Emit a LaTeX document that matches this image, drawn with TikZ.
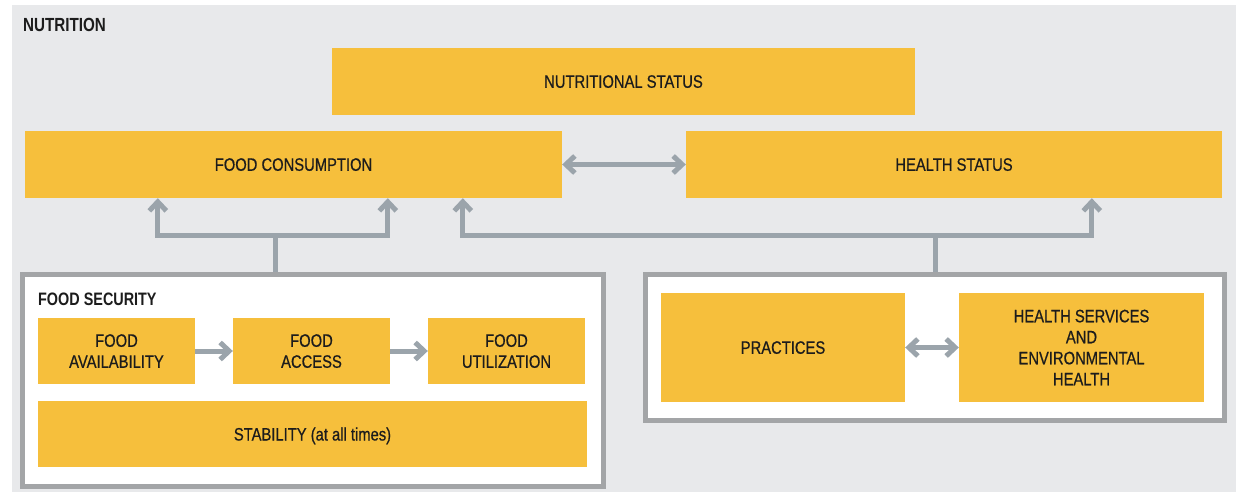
\documentclass[tikz,border=0pt]{standalone}
\usepackage{fontspec}
\setmainfont{Liberation Sans}[FakeStretch=0.8]
\newfontfamily\boxfont{Liberation Sans}[FakeStretch=0.82,FakeBold=0.6]
\usepackage{xcolor}
\usetikzlibrary{arrows.meta,positioning,calc}

\definecolor{bgGrey}{HTML}{E8E9EB}
\definecolor{boxYellow}{HTML}{F6BF3C}
\definecolor{flowGrey}{HTML}{9BA4AB}
\definecolor{frameGrey}{HTML}{A3A5A7}
\definecolor{textBlack}{HTML}{1C1C1C}

\begin{document}
\begin{tikzpicture}[x=1pt,y=-1pt,
    block/.style={fill=boxYellow, text=textBlack, align=center, inner sep=0pt, text depth=0pt,
        font=\boxfont\fontsize{18}{21}\selectfont},
    frame/.style={draw=frameGrey, line width=5pt, fill=white, inner sep=0pt},
    heading/.style={text=textBlack, inner sep=0pt, font=\fontsize{18}{21}\selectfont\bfseries},
    flowline/.style={draw=flowGrey, line width=5pt},
    flow/.style={flowline, -{Straight Barb[length=9pt,width=17pt]}},
    dflow/.style={flowline, {Straight Barb[length=9pt,width=17pt]}-{Straight Barb[length=9pt,width=17pt]}}]

    % Background
    \useasboundingbox (0,0) rectangle (1246,492);
    \fill[bgGrey] (12,5) rectangle (1236,492);
    \node[heading, anchor=base west, font=\fontsize{19}{21}\selectfont\bfseries] (title) at (23,32) {NUTRITION};

    % Top row
    \node[block, minimum width=583pt, minimum height=67pt] (nutr) at (623.5,81.5) {NUTRITIONAL STATUS};
    \node[block, minimum width=537pt, minimum height=67pt] (cons) at (293.5,164.5) {FOOD CONSUMPTION};
    \node[block, minimum width=536pt, minimum height=67pt] (health) at (954,164.5) {HEALTH STATUS};
    \draw[dflow] (cons) -- (health);

    % Food security group
    \node[frame, minimum width=581pt, minimum height=212pt] (fsbox) at (313,380.5) {};
    \node[heading, anchor=base west] (fstitle) at (38,305) {FOOD SECURITY};
    \node[block, minimum width=157pt, minimum height=66pt] (avail) at (116.5,351) {FOOD\\AVAILABILITY};
    \node[block, minimum width=157pt, minimum height=66pt] (access) at (311.5,351) {FOOD\\ACCESS};
    \node[block, minimum width=157pt, minimum height=66pt] (util) at (506.5,351) {FOOD\\UTILIZATION};
    \node[block, minimum width=549pt, minimum height=66pt] (stab) at (312.5,434) {STABILITY (at all times)};
    \draw[flow] (avail) -- (access);
    \draw[flow] (access) -- (util);

    % Health group
    \node[frame, minimum width=579pt, minimum height=146pt] (hbox) at (935,347.5) {};
    \node[block, minimum width=244pt, minimum height=109pt] (pract) at (783,347.5) {PRACTICES};
    \node[block, minimum width=245pt, minimum height=109pt] (hserv) at (1081.5,347.5)
        {HEALTH SERVICES\\AND\\ENVIRONMENTAL\\HEALTH};
    \draw[dflow] (pract) -- (hserv);

    % Links up to the top row
    \coordinate (ljoin) at (275,235);
    \coordinate (rjoin) at (935,235);
    \draw[flowline] (fsbox.north -| ljoin) -- (ljoin);
    \draw[flow] (ljoin) -| ([xshift=133pt]cons.south west);
    \draw[flow] (ljoin) -| ([xshift=363pt]cons.south west);
    \draw[flowline] (hbox.north -| rjoin) -- (rjoin);
    \draw[flow] (rjoin) -| ([xshift=438pt]cons.south west);
    \draw[flow] (rjoin) -| ([xshift=406pt]health.south west);
\end{tikzpicture}
\end{document}
